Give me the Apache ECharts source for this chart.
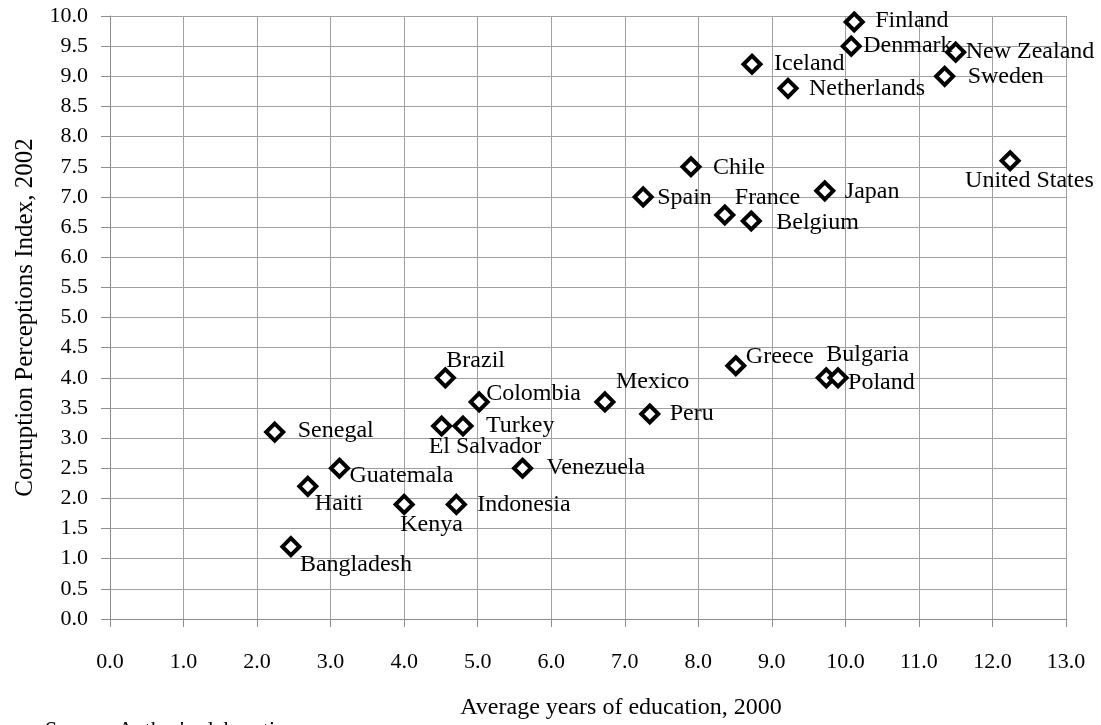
<!DOCTYPE html>
<html>
<head>
<meta charset="utf-8">
<script src="https://cdn.jsdelivr.net/npm/echarts@6/dist/echarts.min.js"></script>
<style>html,body{margin:0;padding:0;background:#fff}#c{width:1101px;height:725px}</style>
</head>
<body>
<div id="c"></div>
<script>
var countries = ["Finland","Denmark","New Zealand","Sweden","Iceland","Netherlands","Chile","Spain","France","Belgium","Japan","United States","Greece","Bulgaria","Poland","Mexico","Peru","Brazil","Colombia","El Salvador","Turkey","Senegal","Guatemala","Venezuela","Haiti","Kenya","Indonesia","Bangladesh"];
var education = [10.12,10.08,11.5,11.35,8.73,9.22,7.9,7.25,8.36,8.72,9.72,12.24,8.51,9.74,9.9,6.73,7.34,4.56,5.02,4.51,4.8,2.24,3.12,5.61,2.69,4.0,4.71,2.46];
var cpi = [9.9,9.5,9.4,9.0,9.2,8.8,7.5,7.0,6.7,6.6,7.1,7.6,4.2,4.0,4.0,3.6,3.4,4.0,3.6,3.2,3.2,3.1,2.5,2.5,2.2,1.9,1.9,1.2];
var xTicks = ["0.0","1.0","2.0","3.0","4.0","5.0","6.0","7.0","8.0","9.0","10.0","11.0","12.0","13.0"];

// label placement (style): [dx from marker centre to text start, dy to text centre]
var labelOffsets = {
  "Finland":[23,1],"Denmark":[14,2],"New Zealand":[12,2],"Sweden":[25,2],"Iceland":[24,1],
  "Netherlands":[23,2],"Chile":[24,3],"Spain":[16,3],"France":[12,-15],"Belgium":[27,4],
  "Japan":[22,3],"United States":[-43,22],"Greece":[12,-7],"Bulgaria":[2,-21],"Poland":[12,7],
  "Mexico":[13,-18],"Peru":[22,2],"Brazil":[3,-15],"Colombia":[9,-6],"El Salvador":[-11,23],
  "Turkey":[25,2],"Senegal":[25,1],"Guatemala":[12,9],"Venezuela":[26,1],"Haiti":[9,19],
  "Kenya":[-2,22],"Indonesia":[23,2],"Bangladesh":[11,20]
};

var FONT = "'Liberation Serif','Times New Roman',serif";
var SYM = 17;
var data = countries.map(function(n,i){
  var o = labelOffsets[n] || [12,0];
  return {
    name: n,
    value: [education[i], cpi[i]],
    label: {show:true, position:[SYM/2 + o[0], SYM/2 + o[1]], align:'left', verticalAlign:'middle'}
  };
});

var chart = echarts.init(document.getElementById('c'), null, {renderer:'canvas'});
chart.setOption({
  animation:false,
  backgroundColor:'#ffffff',
  grid:{left:110, right:35, top:16, bottom:100, containLabel:false},
  xAxis:{
    type:'value', min:0, max:13, interval:1,
    name:'Average years of education, 2000', nameLocation:'middle', nameGap:77,
    nameTextStyle:{fontFamily:FONT, fontSize:24, color:'#000', padding:[0,0,0,66]},
    axisLine:{show:true, onZero:false, lineStyle:{color:'#8c8c8c', width:1}},
    axisTick:{show:true, length:8, inside:false, lineStyle:{color:'#8c8c8c'}},
    axisLabel:{fontFamily:FONT, fontSize:22, color:'#000', margin:32,
      formatter:function(v){ return xTicks[Math.round(v)] || v.toFixed(1); }},
    splitLine:{show:true, lineStyle:{color:'#a0a0a0', width:1}}
  },
  yAxis:{
    type:'value', min:0, max:10, interval:0.5,
    name:'Corruption Perceptions Index, 2002', nameLocation:'middle', nameGap:72, nameRotate:90,
    nameTextStyle:{fontFamily:FONT, fontSize:25, color:'#000'},
    axisLine:{show:true, onZero:false, lineStyle:{color:'#8c8c8c', width:1}},
    axisTick:{show:true, length:9, inside:false, lineStyle:{color:'#8c8c8c'}},
    axisLabel:{fontFamily:FONT, fontSize:22, color:'#000', margin:22,
      formatter:function(v){ return v.toFixed(1); }},
    splitLine:{show:true, lineStyle:{color:'#a0a0a0', width:1}}
  },
  series:[{
    type:'scatter',
    symbol:'diamond',
    symbolSize:SYM,
    itemStyle:{color:'#ffffff', borderColor:'#000000', borderWidth:4, opacity:1},
    label:{show:true, fontFamily:FONT, fontSize:24, color:'#000', textBorderWidth:0,
      formatter:function(p){ return p.name; }},
    emphasis:{disabled:true},
    labelLayout:{hideOverlap:false},
    data:data
  }],
  graphic:[{
    type:'text', left:45, top:719,
    style:{text:"Source: Author's elaboration", font:"22px 'Liberation Serif', serif", fill:'#000'}
  }]
});
</script>
</body>
</html>
